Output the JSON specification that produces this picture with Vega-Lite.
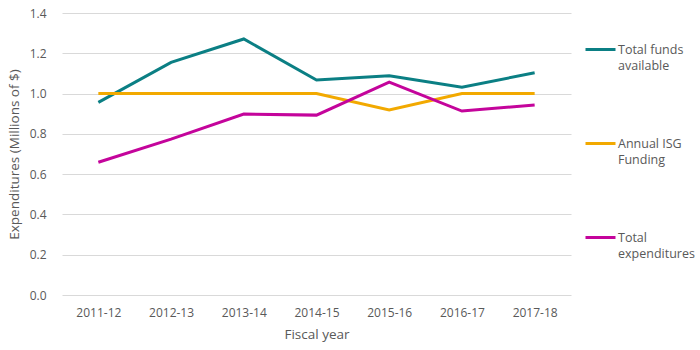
{
  "$schema": "https://vega.github.io/schema/vega-lite/v6.json",
  "autosize": "none",
  "width": 509,
  "height": 282,
  "padding": {"left": 62, "top": 13, "right": 129, "bottom": 55},
  "background": "white",
  "config": {
    "font": "Open Sans",
    "view": {"stroke": null},
    "axis": {"labelColor": "#595959", "titleColor": "#595959", "labelFontSize": 12, "titleFontSize": 13.5, "titleFontWeight": "normal"},
    "legend": {"labelColor": "#595959", "labelFontSize": 12.5}
  },
  "data": {
    "values": [
      {"year": "2011-12", "series": "Total funds available", "value": 0.956},
      {"year": "2012-13", "series": "Total funds available", "value": 1.155},
      {"year": "2013-14", "series": "Total funds available", "value": 1.271},
      {"year": "2014-15", "series": "Total funds available", "value": 1.067},
      {"year": "2015-16", "series": "Total funds available", "value": 1.088},
      {"year": "2016-17", "series": "Total funds available", "value": 1.032},
      {"year": "2017-18", "series": "Total funds available", "value": 1.103},
      {"year": "2011-12", "series": "Annual ISG Funding", "value": 1.0},
      {"year": "2012-13", "series": "Annual ISG Funding", "value": 1.0},
      {"year": "2013-14", "series": "Annual ISG Funding", "value": 1.0},
      {"year": "2014-15", "series": "Annual ISG Funding", "value": 1.0},
      {"year": "2015-16", "series": "Annual ISG Funding", "value": 0.919},
      {"year": "2016-17", "series": "Annual ISG Funding", "value": 1.0},
      {"year": "2017-18", "series": "Annual ISG Funding", "value": 1.0},
      {"year": "2011-12", "series": "Total expenditures", "value": 0.659},
      {"year": "2012-13", "series": "Total expenditures", "value": 0.774},
      {"year": "2013-14", "series": "Total expenditures", "value": 0.898},
      {"year": "2014-15", "series": "Total expenditures", "value": 0.893},
      {"year": "2015-16", "series": "Total expenditures", "value": 1.057},
      {"year": "2016-17", "series": "Total expenditures", "value": 0.913},
      {"year": "2017-18", "series": "Total expenditures", "value": 0.943}
    ]
  },
  "mark": {"type": "line", "strokeWidth": 3},
  "encoding": {
    "x": {
      "field": "year", "type": "ordinal", "title": "Fiscal year",
      "scale": {"type": "point", "padding": 0.5},
      "axis": {"domain": false, "ticks": false, "labelAngle": 0, "labelPadding": 12, "titlePadding": 9}
    },
    "y": {
      "field": "value", "type": "quantitative", "title": "Expenditures (Millions of $)",
      "scale": {"domain": [0, 1.4]},
      "axis": {"values": [0, 0.2, 0.4, 0.6, 0.8, 1.0, 1.2, 1.4], "format": ".1f", "domain": false, "ticks": false, "gridColor": "#d9d9d9", "labelPadding": 16, "titlePadding": 8}
    },
    "color": {
      "field": "series", "type": "nominal", "title": null,
      "scale": {
        "domain": ["Total funds available", "Annual ISG Funding", "Total expenditures"],
        "range": ["#0B7F84", "#F2A900", "#C4049B"]
      },
      "legend": {
        "orient": "none", "legendX": 522, "legendY": 20,
        "symbolType": "stroke", "symbolSize": 900, "symbolStrokeWidth": 3,
        "labelBaseline": "middle", "labelOffset": 1, "labelLimit": 200,
        "rowPadding": 54,
        "encode": {"labels": {"update": {"lineHeight": {"value": 16.5}}}},
        "labelExpr": "datum.label == 'Total funds available' ? ['Total funds', 'available'] : datum.label == 'Annual ISG Funding' ? ['Annual ISG', 'Funding'] : ['Total', 'expenditures']"
      }
    }
  }
}
